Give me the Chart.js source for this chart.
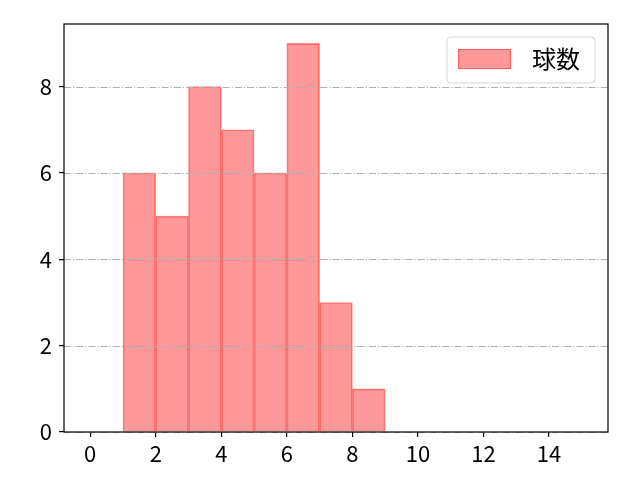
<!DOCTYPE html>
<html>
<head>
<meta charset="utf-8">
<script src="https://cdn.jsdelivr.net/npm/chart.js@4.4.1/dist/chart.umd.min.js"></script>
<style>
  html, body { margin: 0; padding: 0; background: #fff; }
  #wrap { width: 640px; height: 480px; }
</style>
</head>
<body>
<div id="wrap"><canvas id="chart" width="640" height="480"></canvas></div>
<script>
// histogram data: bins of width 1
const binStarts = [1, 2, 3, 4, 5, 6, 7, 8];
const counts = [6, 5, 8, 7, 6, 9, 3, 1];
const xTicks = [0, 2, 4, 6, 8, 10, 12, 14];
const yTicks = [0, 2, 4, 6, 8];
const seriesLabel = '球数';

const FONT = "'Noto Sans CJK JP', 'DejaVu Sans', sans-serif";
const TICK_SIZE = 22;
const LEGEND_SIZE = 24;

// grid lines over the bars, the frame and the legend box
const overlay = {
    id: 'overlay',
    afterDatasetsDraw(chart) {
        const c = chart.ctx;
        const a = chart.chartArea;
        const y = chart.scales.y;

        c.save();
        c.strokeStyle = '#b0b0b0';
        c.lineWidth = 1.1;
        c.setLineDash([7, 2, 1.2, 2]);
        yTicks.forEach(v => {
            const py = Math.round(y.getPixelForValue(v)) + 0.5;
            c.beginPath();
            c.moveTo(a.left, py);
            c.lineTo(a.right, py);
            c.stroke();
        });
        c.setLineDash([]);

        // frame
        c.strokeStyle = '#000';
        c.lineWidth = 1.2;
        c.strokeRect(a.left, a.top, a.right - a.left, a.bottom - a.top);

        // legend
        const lx = 447, ly = 37, lw = 148, lh = 46, r = 4;
        c.beginPath();
        c.moveTo(lx + r, ly);
        c.arcTo(lx + lw, ly, lx + lw, ly + lh, r);
        c.arcTo(lx + lw, ly + lh, lx, ly + lh, r);
        c.arcTo(lx, ly + lh, lx, ly, r);
        c.arcTo(lx, ly, lx + lw, ly, r);
        c.closePath();
        c.fillStyle = 'rgba(255,255,255,0.8)';
        c.fill();
        c.strokeStyle = '#d6d6d6';
        c.lineWidth = 1;
        c.stroke();

        c.fillStyle = 'rgba(255,0,0,0.4)';
        c.fillRect(458, 49, 53, 20);
        c.strokeStyle = 'rgba(255,0,0,0.4)';
        c.strokeRect(458.5, 49.5, 52, 19);

        c.fillStyle = '#000';
        c.font = LEGEND_SIZE + 'px ' + FONT;
        c.textBaseline = 'middle';
        c.textAlign = 'left';
        c.fillText(seriesLabel, 532, 59);
        c.restore();
    }
};

const ctx = document.getElementById('chart');
new Chart(ctx, {
    type: 'bar',
    data: {
        datasets: [{
            label: seriesLabel,
            data: binStarts.map((s, i) => ({ x: s + 0.5, y: counts[i] })),
            backgroundColor: 'rgba(255,0,0,0.4)',
            borderColor: 'rgba(255,0,0,0.45)',
            borderWidth: 1,
            barPercentage: 1,
            categoryPercentage: 1
        }]
    },
    options: {
        responsive: false,
        animation: false,
        devicePixelRatio: 1,
        layout: { padding: { top: 24, right: 32, left: 0, bottom: 0 } },
        plugins: {
            legend: { display: false },
            tooltip: { enabled: false }
        },
        scales: {
            x: {
                type: 'linear',
                offset: false,
                min: -0.8,
                max: 15.8,
                afterBuildTicks: s => { s.ticks = xTicks.map(v => ({ value: v })); },
                afterFit: s => { s.height = 48; },
                grid: { offset: false, drawOnChartArea: false, drawTicks: true, tickLength: 5, color: '#000', lineWidth: 1.2 },
                border: { display: false },
                ticks: { color: '#000', font: { family: FONT, size: TICK_SIZE }, padding: 3, maxRotation: 0, autoSkip: false }
            },
            y: {
                type: 'linear',
                min: 0,
                max: 9.45,
                afterBuildTicks: s => { s.ticks = yTicks.map(v => ({ value: v })); },
                afterFit: s => { s.width = 64; },
                grid: { drawOnChartArea: false, drawTicks: true, tickLength: 5, color: '#000', lineWidth: 1.2 },
                border: { display: false },
                ticks: { color: '#000', font: { family: FONT, size: TICK_SIZE }, padding: 7, autoSkip: false }
            }
        }
    },
    plugins: [overlay]
});
</script>
</body>
</html>
